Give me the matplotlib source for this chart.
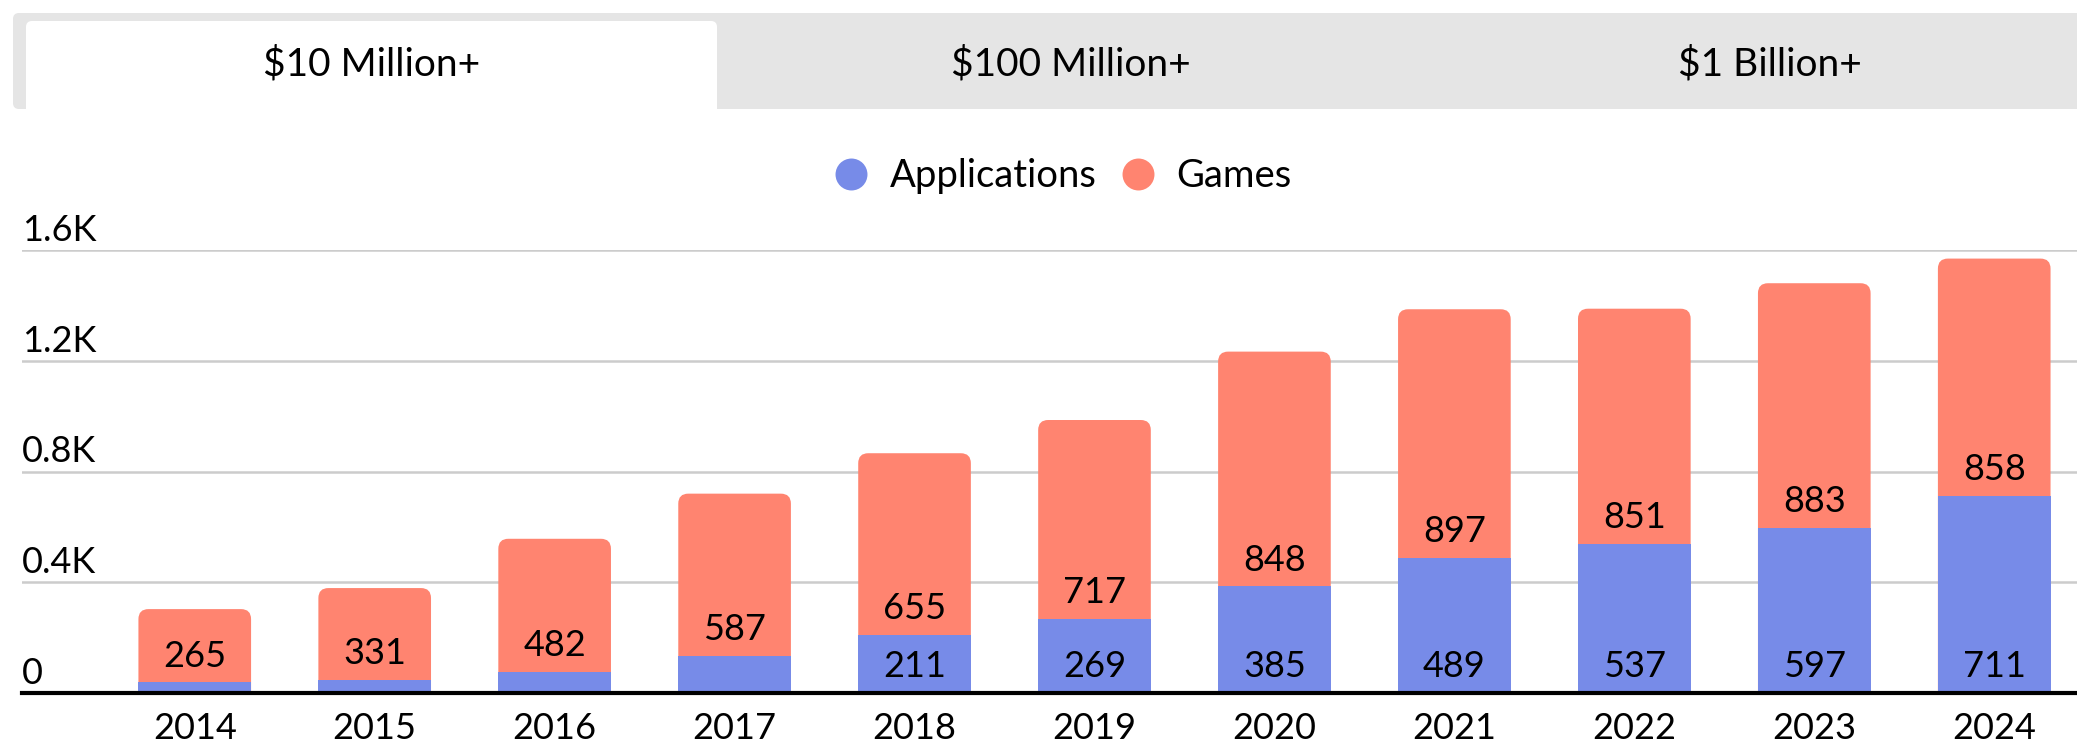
import numpy as np
import matplotlib.pyplot as plt
from matplotlib.patches import FancyBboxPatch
from matplotlib.lines import Line2D

plt.rcParams['font.family'] = ['Lato', 'DejaVu Sans']

# data
years = ['2014', '2015', '2016', '2017', '2018', '2019',
         '2020', '2021', '2022', '2023', '2024']
apps = [38, 48, 75, 133, 211, 269, 385, 489, 537, 597, 711]
games = [265, 331, 482, 587, 655, 717, 848, 897, 851, 883, 858]
tabs = ['$10 Million+', '$100 Million+', '$1 Billion+']
yticks = [0, 400, 800, 1200, 1600]
ytick_labels = ['0', '0.4K', '0.8K', '1.2K', '1.6K']

blue = '#778be8'
salmon = '#ff8470'
W, H = 2077, 744
FS = 26

fig = plt.figure(figsize=(W / 100, H / 100), dpi=100)

# tab strip, drawn on a full-figure axes measured in pixels
bg = fig.add_axes([0, 0, 1, 1], zorder=0)
bg.set_xlim(0, W)
bg.set_ylim(H, 0)
bg.axis('off')
bg.add_patch(FancyBboxPatch((13, 13), W, 96, boxstyle='round,pad=0,rounding_size=6',
                            fc='#e5e5e5', ec='none'))
tab_w = 699
for i, name in enumerate(tabs):
    x0 = 26 + i * tab_w
    if i == 0:
        bg.add_patch(FancyBboxPatch((x0, 21), 691, 110, boxstyle='round,pad=0,rounding_size=6',
                                    fc='white', ec='none'))
    bg.text(x0 + 691 / 2, 64, name, ha='center', va='center', fontsize=28, color='black')

# main chart
ax = fig.add_axes([22 / W, 51 / H, (W - 22) / W, 443 / H], zorder=1)
ax.set_facecolor('none')
x = np.arange(len(years))
bw = 0.626
ax.set_xlim(-0.96, 10.46)
ax.set_ylim(0, 1600)

# aspect so the rounded corners come out circular
bb = ax.get_window_extent()
xr = 10.46 + 0.96
xpp = xr / bb.width
ypp = 1600 / bb.height
aspect = ypp / xpp
r = 10 * xpp

ax.bar(x, apps, bw, color=blue, zorder=3)
for xi, a, g in zip(x, apps, games):
    ax.add_patch(FancyBboxPatch((xi - bw / 2, -150), bw, a + g + 150,
                                boxstyle=f'round,pad=0,rounding_size={r}',
                                mutation_aspect=aspect, fc=salmon, ec='none', zorder=2))
    ax.annotate(str(g), xy=(xi, a), xytext=(0, 19), textcoords='offset points',
                ha='center', va='center', fontsize=FS, zorder=4)
    if a >= 150:
        ax.annotate(str(a), xy=(xi, 0), xytext=(0, 19), textcoords='offset points',
                    ha='center', va='center', fontsize=FS, zorder=4)

ax.set_yticks(yticks)
ax.yaxis.grid(True, color='#cccccc', lw=1.8)
ax.set_axisbelow(True)
ax.tick_params(axis='y', length=0, labelleft=False)
for v, lab in zip(yticks, ytick_labels):
    ax.annotate(lab, xy=(0, v), xycoords=ax.get_yaxis_transform(), xytext=(0, 6.5),
                textcoords='offset points', ha='left', va='baseline', fontsize=FS)

ax.set_xticks(x, years)
ax.tick_params(axis='x', length=0, pad=14, labelsize=FS)
for s in ['top', 'left', 'right']:
    ax.spines[s].set_visible(False)
ax.spines['bottom'].set_color('black')
ax.spines['bottom'].set_linewidth(3)
ax.spines['bottom'].set_zorder(5)

handles = [Line2D([], [], marker='o', ls='', ms=23, mfc=blue, mec='none', label='Applications'),
           Line2D([], [], marker='o', ls='', ms=23, mfc=salmon, mec='none', label='Games')]
fig.legend(handles=handles, loc='center', bbox_to_anchor=(1062 / W, 1 - 176 / H), ncol=2,
           frameon=False, fontsize=27.5, handlelength=1, handletextpad=0.5, columnspacing=0.6)

fig.savefig('out.png', dpi=100)
